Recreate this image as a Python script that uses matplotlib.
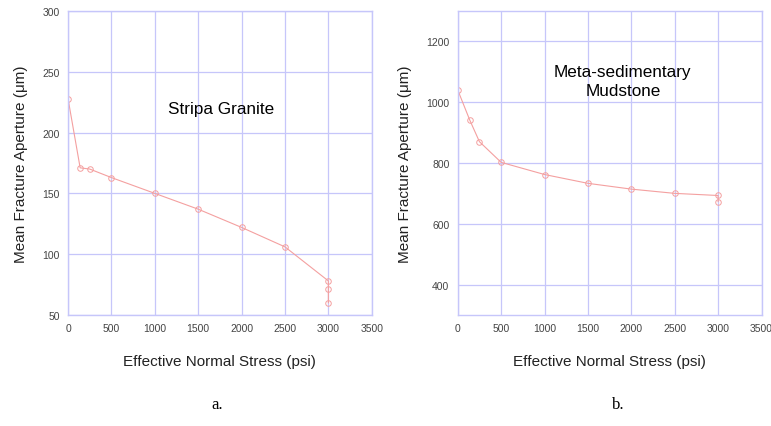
import matplotlib.pyplot as plt

# data
stress_a = [0, 140, 250, 500, 1000, 1500, 2000, 2500, 3000, 3000, 3000]
aperture_a = [228, 171, 170, 163, 150, 137, 122, 106, 78, 71, 60]

stress_b = [0, 140, 250, 500, 1000, 1500, 2000, 2500, 3000, 3000]
aperture_b = [1040, 940, 870, 802, 762, 733, 714, 700, 693, 673]

xticks = [0, 500, 1000, 1500, 2000, 2500, 3000, 3500]
yticks_a = [50, 100, 150, 200, 250, 300]
yticks_b = [400, 600, 800, 1000, 1200]

plt.rcParams['font.family'] = ['Liberation Sans', 'DejaVu Sans']

grid_col = '#c6c6fa'
line_col = '#f4a0a0'

fig = plt.figure(figsize=(7.71, 4.27), dpi=100)
ax1 = fig.add_axes([0.0882, 0.26, 0.394, 0.712])
ax2 = fig.add_axes([0.5937, 0.26, 0.394, 0.712])


def style(ax, yticks, ylim):
    ax.set_xlim(0, 3500)
    ax.set_ylim(*ylim)
    ax.set_xticks(xticks)
    ax.set_yticks(yticks)
    ax.grid(True, color=grid_col, linewidth=0.9)
    ax.set_axisbelow(True)
    for s in ax.spines.values():
        s.set_color(grid_col)
        s.set_linewidth(1.0)
    ax.tick_params(length=0, labelsize=7.5, labelcolor='#444444', pad=6)
    ax.set_xlabel('Effective Normal Stress (psi)', fontsize=11, labelpad=15, color='#222222')
    ax.set_ylabel('Mean Fracture Aperture (\u03bcm)', fontsize=11, labelpad=10, color='#222222')


ax1.plot(stress_a, aperture_a, color=line_col, lw=0.8, marker='o', ms=4,
         mfc='none', mec=line_col, mew=0.7)
style(ax1, yticks_a, (50, 300))
ax1.text(1761, 220, 'Stripa Granite', fontsize=12.3, ha='center', va='center')

ax2.plot(stress_b, aperture_b, color=line_col, lw=0.8, marker='o', ms=4,
         mfc='none', mec=line_col, mew=0.7)
style(ax2, yticks_b, (300, 1300))
ax2.text(1903, 1070, 'Meta-sedimentary\nMudstone', fontsize=12.3, ha='center',
         va='center', linespacing=1.3)

fig.text(217 / 771, 1 - 405 / 427, 'a.', fontsize=12, family='Liberation Serif',
         ha='center', va='center')
fig.text(618 / 771, 1 - 405 / 427, 'b.', fontsize=12, family='Liberation Serif',
         ha='center', va='center')

fig.savefig('out.png', dpi=100)
